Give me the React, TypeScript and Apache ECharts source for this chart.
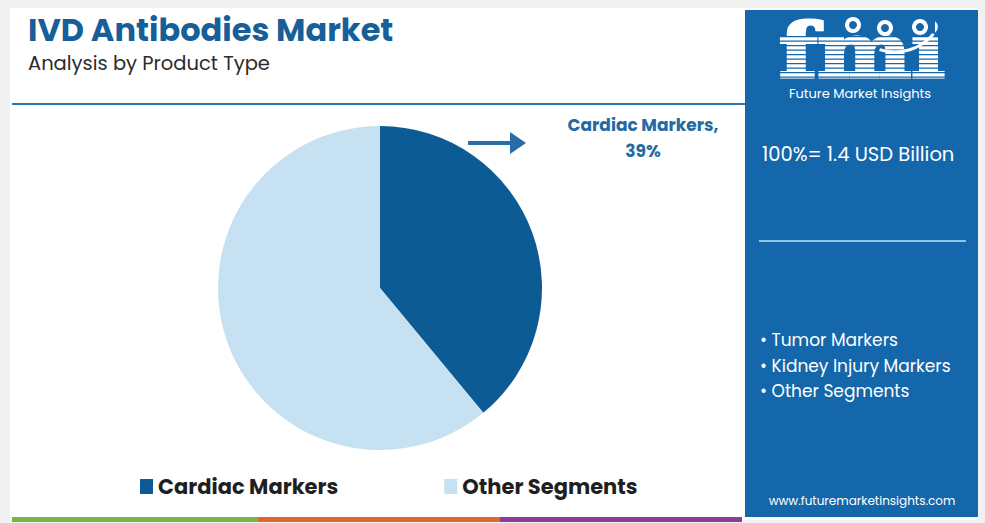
import React, { useEffect, useRef } from "react";
import * as echarts from "echarts";

const categories = ["Cardiac Markers", "Other Segments"];
const shares = [39, 61];
const sliceColors = ["#0d5b94", "#c6e1f2"];
const otherSegments = ["Tumor Markers", "Kidney Injury Markers", "Other Segments"];
const totalLabel = "100%= 1.4 USD Billion";

export default function App() {
  const ref = useRef<HTMLDivElement>(null);
  useEffect(() => {
    document.body.style.margin = "0";
    const chart = echarts.init(ref.current!, null, { renderer: "svg" });
    const panel = "#1467aa";
    const font = "Poppins, 'Noto Sans', 'Open Sans', sans-serif";
    const stripes: any[] = [];
    for (let y = 36; y < 82; y += 4.5) {
      stripes.push({ type: "rect", shape: { x: 772, y, width: 180, height: 1.3 }, style: { fill: panel }, z: 12 });
    }
    const graphic: any[] = [
      { type: "rect", shape: { x: 0, y: 0, width: 985, height: 523 }, style: { fill: "#f1f1f1" }, z: 0 },
      { type: "rect", shape: { x: 10, y: 8, width: 968, height: 512 }, style: { fill: "#ffffff" }, z: 1 },
      { type: "rect", shape: { x: 745, y: 10, width: 233, height: 507 }, style: { fill: panel }, z: 2 },
      { type: "line", shape: { x1: 12, y1: 104, x2: 745, y2: 104 }, style: { stroke: "#2e76b1", lineWidth: 2 }, z: 3 },
      { type: "text", x: 28, y: 29, style: { text: "IVD Antibodies Market", fill: "#175f98", font: `bold 32px ${font}`, lineHeight: 34, verticalAlign: "middle" }, z: 5 },
      { type: "text", x: 28, y: 63, style: { text: "Analysis by Product Type", fill: "#2b2b2b", font: `19.5px ${font}`, lineHeight: 22, verticalAlign: "middle" }, z: 5 },
      // arrow
      { type: "line", shape: { x1: 468, y1: 143, x2: 512, y2: 143 }, style: { stroke: "#2a6da6", lineWidth: 4 }, z: 5 },
      { type: "polygon", shape: { points: [[510, 132], [526, 143], [510, 154]] }, style: { fill: "#2a6da6" }, z: 5 },
      { type: "text", x: 643, y: 125, style: { text: `${categories[0]},`, fill: "#246aa3", font: `bold 17px ${font}`, align: "center", verticalAlign: "middle" }, z: 5 },
      { type: "text", x: 643, y: 151, style: { text: `${shares[0]}%`, fill: "#246aa3", font: `bold 17px ${font}`, align: "center", verticalAlign: "middle" }, z: 5 },
      // bottom strips
      { type: "rect", shape: { x: 12, y: 517, width: 246, height: 5 }, style: { fill: "#77b544" }, z: 4 },
      { type: "rect", shape: { x: 258, y: 517, width: 242, height: 5 }, style: { fill: "#e0662e" }, z: 4 },
      { type: "rect", shape: { x: 500, y: 517, width: 242, height: 5 }, style: { fill: "#8e3c97" }, z: 4 },
      // logo
      {
        type: "group", x: 862, y: 51, scaleX: 1.2, z: 11,
        children: [
          { type: "text", x: 0, y: 0, style: { text: "fmi", fill: "#ffffff", stroke: "#ffffff", lineWidth: 3, fontFamily: "'DejaVu Serif', serif", fontWeight: "bold", fontSize: 74, lineHeight: 66, align: "center", verticalAlign: "middle" }, z: 11 },
        ],
      },
      ...stripes,
      { type: "rect", shape: { x: 905, y: 14, width: 30, height: 22 }, style: { fill: panel }, z: 12 },
      { type: "circle", shape: { cx: 853, cy: 25, r: 8 }, style: { fill: "#ffffff" }, z: 13 },
      { type: "circle", shape: { cx: 885, cy: 28, r: 8 }, style: { fill: "#ffffff" }, z: 13 },
      { type: "circle", shape: { cx: 920, cy: 27, r: 8 }, style: { fill: "#ffffff" }, z: 13 },
      { type: "circle", shape: { cx: 853, cy: 25, r: 4 }, style: { fill: panel }, z: 14 },
      { type: "circle", shape: { cx: 885, cy: 28, r: 4 }, style: { fill: panel }, z: 14 },
      { type: "circle", shape: { cx: 920, cy: 27, r: 4 }, style: { fill: panel }, z: 14 },
      { type: "arc", shape: { cx: 895, cy: 2, r: 50, startAngle: Math.PI * 0.22, endAngle: Math.PI * 0.6 }, style: { stroke: "#ffffff", lineWidth: 3, fill: "none" }, z: 13 },
      { type: "text", x: 860, y: 93, style: { text: "Future Market Insights", fill: "#ffffff", font: `13px ${font}`, lineHeight: 14, align: "center", verticalAlign: "middle" }, z: 13 },
      { type: "text", x: 762, y: 154, style: { text: totalLabel, fill: "#ffffff", font: `19.5px ${font}`, verticalAlign: "middle" }, z: 5 },
      { type: "line", shape: { x1: 759, y1: 241, x2: 966, y2: 241 }, style: { stroke: "#8fc4ea", lineWidth: 2 }, z: 5 },
      ...otherSegments.map((s, i) => ({
        type: "text", x: 760, y: 340 + i * 25.5,
        style: { text: `• ${s}`, fill: "#ffffff", font: `17px ${font}`, verticalAlign: "middle" }, z: 5,
      })),
      { type: "text", x: 862, y: 500, style: { text: "www.futuremarketinsights.com", fill: "#ffffff", font: `12px ${font}`, align: "center", verticalAlign: "middle" }, z: 5 },
    ];
    chart.setOption({
      animation: false,
      graphic,
      legend: {
        bottom: 21,
        left: 135,
        itemGap: 106,
        itemWidth: 13,
        itemHeight: 15,
        icon: "rect",
        textStyle: { fontSize: 21, fontWeight: "bold", color: "#1f1f1f", fontFamily: font },
        data: categories,
        z: 6,
      },
      series: [
        {
          type: "pie",
          center: [380, 288],
          radius: [0, 162],
          startAngle: 90,
          clockwise: true,
          label: { show: false },
          labelLine: { show: false },
          silent: true,
          itemStyle: { borderWidth: 0 },
          data: categories.map((c, i) => ({ name: c, value: shares[i], itemStyle: { color: sliceColors[i] } })),
          z: 6,
        },
      ],
    });
    return () => chart.dispose();
  }, []);
  return <div ref={ref} style={{ position: "absolute", left: 0, top: 0, width: 985, height: 523 }} />;
}
